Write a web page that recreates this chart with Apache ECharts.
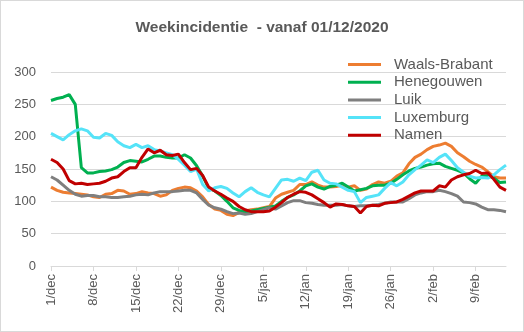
<!DOCTYPE html>
<html><head><meta charset="utf-8">
<script src="https://cdn.jsdelivr.net/npm/echarts@6/dist/echarts.min.js"></script>
<style>
html,body{margin:0;padding:0;background:#fff;}
#c{position:absolute;left:0;top:0;width:522px;height:330px;border:1px solid #d9d9d9;}
</style></head><body>
<div id="c"></div>
<script>
var months = ['dec','jan','feb'];
var monthDays = [31,31,14];
var categories = [];
for (var m=0;m<months.length;m++){ for (var d=1; d<=monthDays[m]; d++){ categories.push(d+'/'+months[m]); } }

var seriesNames = ['Waals-Brabant','Henegouwen','Luik','Luxemburg','Namen'];
var waalsBrabant = [122,117,114,113,112,111,110,107,106,111,112,117,116,111,112,115,113,112,108,110,117,120,122,121,116,107,95,88,86,80,78,83,85,87,88,90,92,105,111,114,117,126,126,130,125,122,122,123,125,122,124,117,119,126,130,128,131,139,144,158,168,173,180,185,187,190,185,175,169,162,157,153,146,138,136,136];
var henegouwen = [256,259,261,265,250,152,144,144,146,147,149,153,160,163,162,161,165,170,170,168,167,167,172,167,155,139,120,116,109,100,90,86,84,85,87,89,91,93,100,106,110,116,124,127,122,119,123,125,128,122,116,118,120,124,125,125,128,134,141,147,151,153,156,158,159,154,151,148,144,135,128,139,140,136,129,130];
var luik = [138,133,125,117,111,108,109,109,107,107,106,106,107,108,110,111,110,113,115,115,115,116,117,117,113,103,94,90,88,84,81,82,80,81,84,87,90,88,93,98,101,101,98,97,95,94,94,94,95,93,92,93,93,94,95,97,99,99,99,104,110,113,115,115,117,115,112,108,99,98,96,91,87,87,86,84];
var luxemburg = [205,200,195,203,209,212,209,199,198,205,202,192,186,183,188,183,186,180,178,175,172,165,156,146,150,126,116,121,123,120,113,107,115,121,114,110,107,120,133,134,131,136,132,145,148,133,128,127,122,117,115,98,106,108,110,120,129,124,130,141,149,156,164,160,168,173,163,152,145,139,136,137,136,141,149,156];
var namen = [165,160,150,132,127,128,126,127,128,131,136,138,146,152,152,168,181,175,179,172,171,173,160,149,151,140,122,116,111,105,100,92,87,84,84,84,85,91,98,106,111,115,114,110,104,98,91,96,95,93,92,82,92,94,93,97,98,99,103,108,113,116,116,116,124,122,133,138,141,143,148,143,144,134,122,117];
var colors = ['#ED7D31','#00B050','#7F7F7F','#55E3F8','#C00000'];
var allData = [waalsBrabant, henegouwen, luik, luxemburg, namen];

var chart = echarts.init(document.getElementById('c'), null, {renderer:'canvas'});
var series = seriesNames.map(function(n,i){
  return {name:n, type:'line', data:allData[i], symbol:'none', smooth:false,
    lineStyle:{width:3, color:colors[i]}, itemStyle:{color:colors[i]}};
});
chart.setOption({
  animation:false,
  title:{text:'Weekincidentie  - vanaf 01/12/2020', left:'center', top:14,
    textStyle:{fontFamily:'Liberation Sans', fontSize:15.5, fontWeight:'bold', color:'#595959'}},
  legend:{orient:'vertical', left:342, top:50, icon:'rect', itemWidth:33, itemHeight:3, itemGap:0.7,
    textStyle:{fontFamily:'Liberation Sans', fontSize:15, color:'#595959', lineHeight:17, padding:[0,0,0,8]},
    data:seriesNames},
  grid:{left:50, right:17, top:71, bottom:65, containLabel:false},
  xAxis:{type:'category', data:categories, boundaryGap:false,
    axisLine:{lineStyle:{color:'#d9d9d9', width:1}},
    axisTick:{show:true, interval:6, length:5, lineStyle:{color:'#d9d9d9'}},
    axisLabel:{interval:6, rotate:90, margin:8, fontFamily:'Liberation Sans', fontSize:13, color:'#595959'}},
  yAxis:{type:'value', min:0, max:300, interval:50,
    axisLine:{show:false}, axisTick:{show:false},
    splitLine:{lineStyle:{color:'#d9d9d9', width:1}},
    axisLabel:{margin:15, fontFamily:'Liberation Sans', fontSize:13, color:'#595959'}},
  series:series
});
</script></body></html>
